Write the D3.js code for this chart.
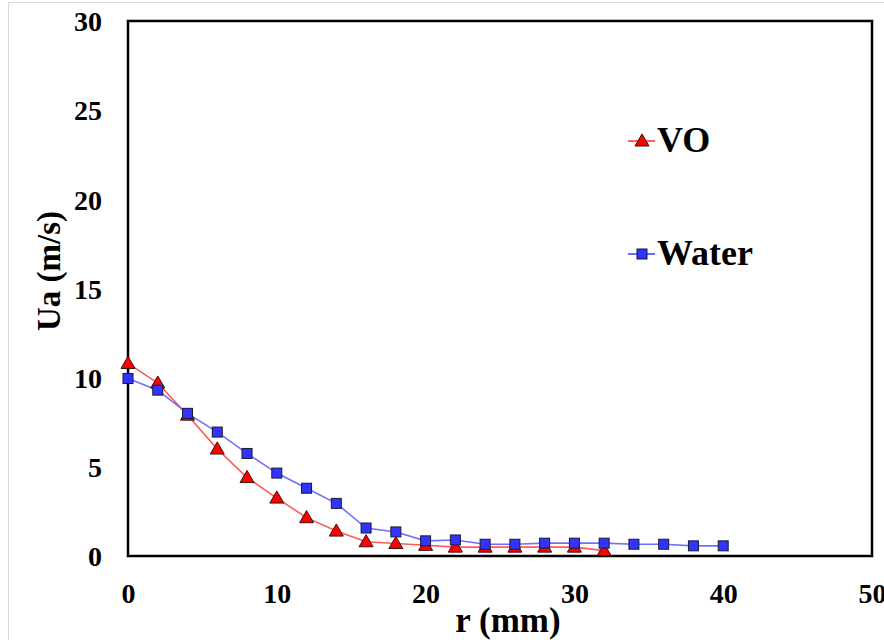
<!DOCTYPE html>
<html><head><meta charset="utf-8">
<script src="https://cdn.jsdelivr.net/npm/d3@7"></script>
<style>html,body{margin:0;padding:0;background:#fff;}svg{display:block;}</style>
</head><body>
<script>
const rVO = [0,2,4,6,8,10,12,14,16,18,20,22,24,26,28,30,32];
const vVO = [10.8,9.7,7.9,6.0,4.4,3.25,2.15,1.4,0.8,0.7,0.6,0.5,0.5,0.5,0.5,0.5,0.3];
const rWater = [0,2,4,6,8,10,12,14,16,18,20,22,24,26,28,30,32,34,36,38,40];
const vWater = [9.95,9.3,8.0,6.95,5.75,4.65,3.8,2.95,1.57,1.35,0.85,0.9,0.66,0.66,0.72,0.72,0.72,0.66,0.66,0.57,0.57];
const xTicks = [0,10,20,30,40,50];
const yTicks = [0,5,10,15,20,25,30];
const seriesNames = ["VO","Water"];

const FONT = "Liberation Serif, 'Times New Roman', DejaVu Serif, serif";
const W=884,H=640;
const svg=d3.select("body").append("svg").attr("width",W).attr("height",H);
svg.append("rect").attr("x",8.5).attr("y",2.5).attr("width",W).attr("height",H).attr("fill","#fff").attr("stroke","#d9d9d9").attr("stroke-width",1);

const x=d3.scaleLinear().domain([0,50]).range([128,872]);
const y=d3.scaleLinear().domain([0,30]).range([556,21]);

function sf(sel,size){
  return sel.style("font-family",FONT).style("font-weight","bold").style("font-size",size+"px").style("fill","#000");
}

// frame
svg.append("rect").attr("x",x(0)).attr("y",y(30)).attr("width",x(50)-x(0)).attr("height",y(0)-y(30))
  .attr("fill","none").attr("stroke","#000").attr("stroke-width",2.5);

// axes via d3 axis generators (no tick lines)
const xa=svg.append("g").attr("transform",`translate(0,${y(0)})`).call(d3.axisBottom(x).tickValues(xTicks).tickSize(0).tickPadding(27));
xa.select(".domain").remove();
sf(xa.selectAll("text"),28);
const ya=svg.append("g").attr("transform",`translate(${x(0)},0)`).call(d3.axisLeft(y).tickValues(yTicks).tickSize(0).tickPadding(26));
ya.select(".domain").remove();
sf(ya.selectAll("text"),28).attr("dy","0.35em");

// titles
sf(svg.append("text").attr("x",508).attr("y",632).attr("text-anchor","middle"),35).text("r (mm)");
sf(svg.append("text").attr("transform",`translate(60,271) rotate(-90)`).attr("text-anchor","middle"),33).text("Ua (m/s)");

const line=d3.line().x(d=>x(d[0])).y(d=>y(d[1]));
const dVO=rVO.map((r,i)=>[r,vVO[i]]);
const dW=rWater.map((r,i)=>[r,vWater[i]]);
const tri=d3.symbol().type(d3.symbolTriangle).size(85);

svg.append("path").attr("d",line(dVO)).attr("fill","none").attr("stroke","#ff5a5a").attr("stroke-width",1.6);
svg.append("path").attr("d",line(dW)).attr("fill","none").attr("stroke","#7070ff").attr("stroke-width",1.6);

svg.selectAll(".tri").data(dVO).enter().append("path").attr("d",tri)
  .attr("transform",d=>`translate(${x(d[0])},${y(d[1])+1})`).attr("fill","#ff0000").attr("stroke","#3a1010").attr("stroke-width",1);
svg.selectAll(".sq").data(dW).enter().append("rect")
  .attr("x",d=>x(d[0])-5).attr("y",d=>y(d[1])-5).attr("width",10).attr("height",10)
  .attr("fill","#3333ff").attr("stroke","#1a1a33").attr("stroke-width",1);

// legend
const lg=[{n:seriesNames[0],y:141,c:"#ff3030"},{n:seriesNames[1],y:254,c:"#3a3aff"}];
lg.forEach((l,i)=>{
  svg.append("line").attr("x1",628).attr("x2",655).attr("y1",l.y).attr("y2",l.y).attr("stroke",l.c).attr("stroke-width",1.5);
  if(i===0) svg.append("path").attr("d",tri).attr("transform",`translate(642,${l.y+1})`).attr("fill","#ff0000").attr("stroke","#3a1010").attr("stroke-width",1);
  else svg.append("rect").attr("x",637).attr("y",l.y-5).attr("width",10).attr("height",10).attr("fill","#3333ff").attr("stroke","#1a1a33").attr("stroke-width",1);
  sf(svg.append("text").attr("x",657).attr("y",l.y+11),36).text(l.n);
});
</script>
</body></html>
